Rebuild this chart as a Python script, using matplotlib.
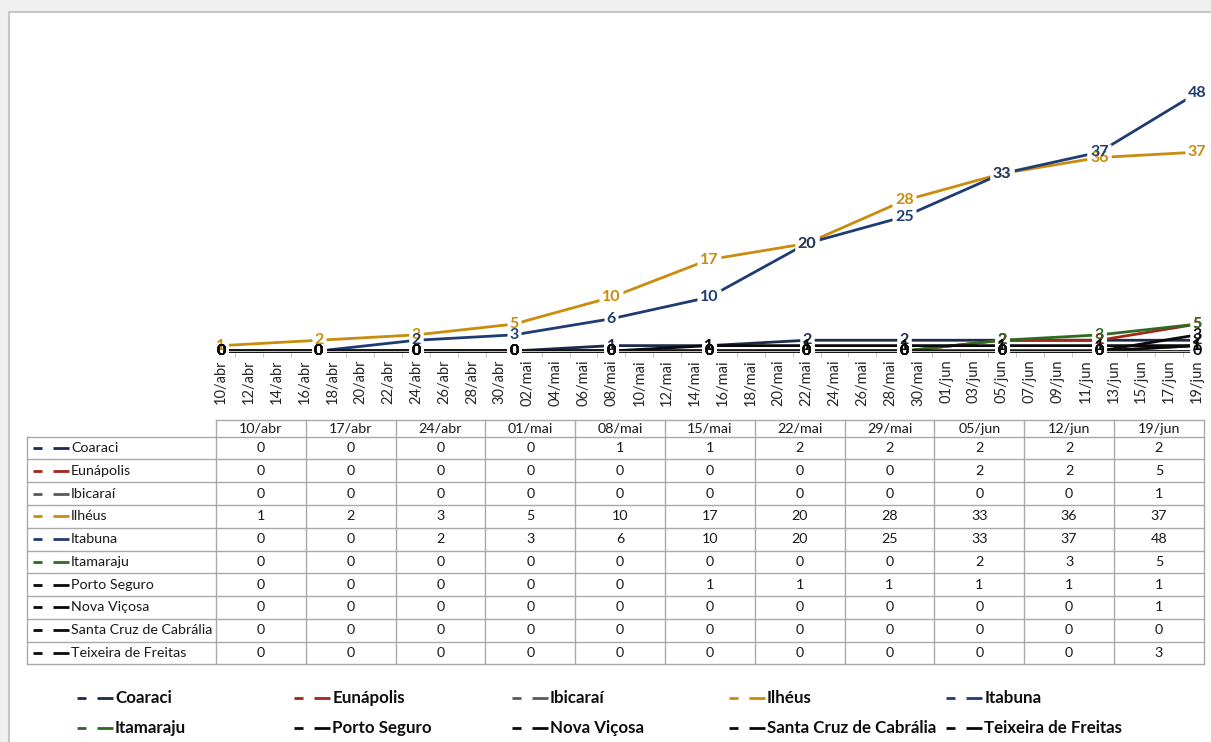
import matplotlib
matplotlib.use('Agg')
import matplotlib.pyplot as plt
from matplotlib.patches import Rectangle
import pandas as pd

plt.rcParams['font.family'] = ['Lato', 'DejaVu Sans']

# ---------------- data ----------------
week_labels = ['10/abr', '17/abr', '24/abr', '01/mai', '08/mai', '15/mai',
               '22/mai', '29/mai', '05/jun', '12/jun', '19/jun']
week_dates = pd.to_datetime(['2020-04-10', '2020-04-17', '2020-04-24', '2020-05-01',
                             '2020-05-08', '2020-05-15', '2020-05-22', '2020-05-29',
                             '2020-06-05', '2020-06-12', '2020-06-19'])
series_names = ['Coaraci', 'Eunápolis', 'Ibicaraí', 'Ilhéus', 'Itabuna', 'Itamaraju',
                'Porto Seguro', 'Nova Viçosa', 'Santa Cruz de Cabrália', 'Teixeira de Freitas']
coaraci = [0, 0, 0, 0, 1, 1, 2, 2, 2, 2, 2]
eunapolis = [0, 0, 0, 0, 0, 0, 0, 0, 2, 2, 5]
ibicarai = [0, 0, 0, 0, 0, 0, 0, 0, 0, 0, 1]
ilheus = [1, 2, 3, 5, 10, 17, 20, 28, 33, 36, 37]
itabuna = [0, 0, 2, 3, 6, 10, 20, 25, 33, 37, 48]
itamaraju = [0, 0, 0, 0, 0, 0, 0, 0, 2, 3, 5]
porto_seguro = [0, 0, 0, 0, 0, 1, 1, 1, 1, 1, 1]
nova_vicosa = [0, 0, 0, 0, 0, 0, 0, 0, 0, 0, 1]
santa_cruz = [0, 0, 0, 0, 0, 0, 0, 0, 0, 0, 0]
teixeira = [0, 0, 0, 0, 0, 0, 0, 0, 0, 0, 3]
series_values = [coaraci, eunapolis, ibicarai, ilheus, itabuna, itamaraju,
                 porto_seguro, nova_vicosa, santa_cruz, teixeira]
series_colors = ['#1C2A4C', '#A3261B', '#5A5A5A', '#C98C0C', '#1F3C72', '#2E6A20',
                 '#0A0A0A', '#0A0A0A', '#0A0A0A', '#0A0A0A']
month_abbr = {4: 'abr', 5: 'mai', 6: 'jun'}

# ---------------- figure ----------------
W, H = 1211, 742
fig = plt.figure(figsize=(W / 100, H / 100), dpi=100)
fig.patch.set_facecolor('#F0F0F0')
fig.add_artist(Rectangle((9 / W, -0.05), 1.2, 1.05 - 12 / H, transform=fig.transFigure,
                         facecolor='white', edgecolor='#C6C6C6', lw=1.5, zorder=-10))

# overlay axes in pixel coordinates for the data table and legend
ov = fig.add_axes([0, 0, 1, 1], zorder=1)
ov.set_xlim(0, W)
ov.set_ylim(H, 0)
ov.axis('off')
ov.patch.set_alpha(0)

# ---------------- chart ----------------
x_left, x_right, y_zero, y_top = 221, 1197, 351, 28.5
ax = fig.add_axes([x_left / W, 1 - y_zero / H, (x_right - x_left) / W, (y_zero - y_top) / H],
                  zorder=2)
ax.patch.set_alpha(0)
ax.set_xlim(week_dates[0], week_dates[-1])
ax.set_ylim(0, 60)
for s in ['left', 'right', 'top']:
    ax.spines[s].set_visible(False)
ax.spines['bottom'].set_color('#BFBFBF')
ax.set_yticks([])

tick_dates = pd.date_range(week_dates[0], week_dates[-1], freq='2D')
ax.set_xticks(tick_dates)
ax.set_xticklabels([f"{d.day:02d}/{month_abbr[d.month]}" for d in tick_dates],
                   rotation=90, fontsize=10.5, color='#262626')
ax.tick_params(axis='x', which='major', length=0, pad=6)
minor_dates = pd.date_range(week_dates[0] + pd.Timedelta(days=1), week_dates[-1], freq='2D')
ax.set_xticks(minor_dates, minor=True)
ax.tick_params(axis='x', which='minor', length=4, color='#BFBFBF')

for vals, col in zip(series_values, series_colors):
    ax.plot(week_dates, vals, color=col, lw=2, clip_on=False, zorder=2,
            solid_capstyle='butt')

# white gaps behind the data labels (rectangular markers), then the labels on top
box_1 = [(-0.43, -0.5), (0.43, -0.5), (0.43, 0.5), (-0.43, 0.5), (-0.43, -0.5)]
box_2 = [(-0.5, -0.35), (0.5, -0.35), (0.5, 0.35), (-0.5, 0.35), (-0.5, -0.35)]
for vals in series_values:
    for d, v in zip(week_dates, vals):
        two = len(str(v)) > 1
        ax.plot([d], [v], linestyle='none', marker=box_2 if two else box_1,
                markersize=16.6 if two else 11.5, markerfacecolor='white',
                markeredgecolor='none', zorder=4, clip_on=False)
for vals, col in zip(series_values, series_colors):
    for d, v in zip(week_dates, vals):
        ax.text(d, v, str(v), ha='center', va='center', fontsize=11.5, fontweight='bold',
                color=col, zorder=5, clip_on=False)

# ---------------- data table ----------------
grid_col = '#A9A9A9'
top_y, header_h, row_h = 419.5, 17.2, 22.76
left_x, data_x0, col_w = 27, 216, 89.8
n_rows, n_cols = len(series_names), len(week_labels)
data_x1 = data_x0 + n_cols * col_w
body_top = top_y + header_h
bottom_y = body_top + n_rows * row_h

ov.plot([data_x0, data_x1], [top_y, top_y], color=grid_col, lw=1)
for r in range(n_rows + 1):
    yy = body_top + r * row_h
    ov.plot([left_x, data_x1], [yy, yy], color=grid_col, lw=1)
ov.plot([left_x, left_x], [body_top, bottom_y], color=grid_col, lw=1)
for c in range(n_cols + 1):
    xx = data_x0 + c * col_w
    ov.plot([xx, xx], [top_y, bottom_y], color=grid_col, lw=1)

for c, lab in enumerate(week_labels):
    ov.text(data_x0 + (c + 0.5) * col_w, top_y + header_h / 2 + 0.5, lab,
            ha='center', va='center', fontsize=10.3, color='#1A1A1A')
for r, (name, vals, col) in enumerate(zip(series_names, series_values, series_colors)):
    yc = body_top + (r + 0.5) * row_h
    ov.plot([33, 42], [yc, yc], color=col, lw=2, solid_capstyle='butt')
    ov.plot([53, 69], [yc, yc], color=col, lw=2, solid_capstyle='butt')
    ov.text(71, yc, name, ha='left', va='center', fontsize=10.3, color='#1A1A1A')
    for c, v in enumerate(vals):
        ov.text(data_x0 + (c + 0.5) * col_w, yc, str(v), ha='center', va='center',
                fontsize=10.3, color='#1A1A1A')

# ---------------- legend ----------------
leg_x0, leg_dx, leg_y0, leg_dy = 77, 217.3, 698, 30
for i, (name, col) in enumerate(zip(series_names, series_colors)):
    xk = leg_x0 + (i % 5) * leg_dx
    yk = leg_y0 + (i // 5) * leg_dy
    ov.plot([xk, xk + 9], [yk, yk], color=col, lw=2, solid_capstyle='butt')
    ov.plot([xk + 20, xk + 36], [yk, yk], color=col, lw=2, solid_capstyle='butt')
    ov.text(xk + 38, yk, name, ha='left', va='center', fontsize=12.2, fontweight='bold',
            color='#0D0D0D')

fig.savefig('out.png', dpi=100)
